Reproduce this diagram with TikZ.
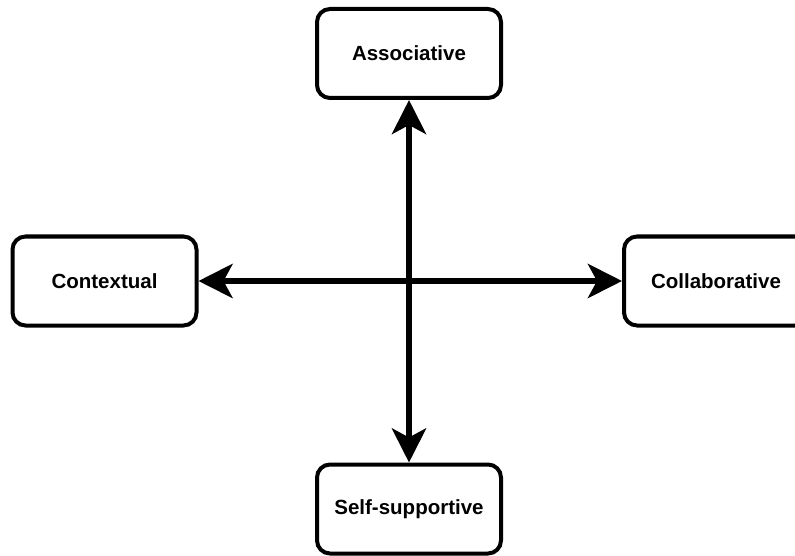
\documentclass[tikz,border=0pt]{standalone}
\usepackage{fontspec}
\setmainfont{Liberation Sans}
\usetikzlibrary{arrows.meta}
\tikzset{
	mode/.style={
			draw, line width=4pt, rounded corners=13pt,
			minimum width=184pt, minimum height=89pt, inner sep=0pt,
			font=\fontsize{20.5}{24}\selectfont\bfseries
		},
	link/.style={line width=6pt, {Stealth[length=34pt,width=34pt,inset=9pt]}-{Stealth[length=34pt,width=34pt,inset=9pt]}}
}

\begin{document}
\begin{tikzpicture}[x=1pt,y=-1pt]
	\useasboundingbox (0,0) rectangle (795,556);
	% Centres of the four boxes
	\coordinate (N) at (409,53.5);
	\coordinate (W) at (104.5,281);
	\coordinate (E) at (716,281);
	\coordinate (S) at (409,509);
	% The four boxes
	\node[mode] (assoc) at (N) {Associative};
	\node[mode] (context) at (W) {Contextual};
	\node[mode] (collab) at (E) {Collaborative};
	\node[mode] (self) at (S) {Self-supportive};

	%--- Crossing arrows ---
	\draw[link] (assoc) -- (self);
	\draw[link] (context) -- (collab);
\end{tikzpicture}
\end{document}
